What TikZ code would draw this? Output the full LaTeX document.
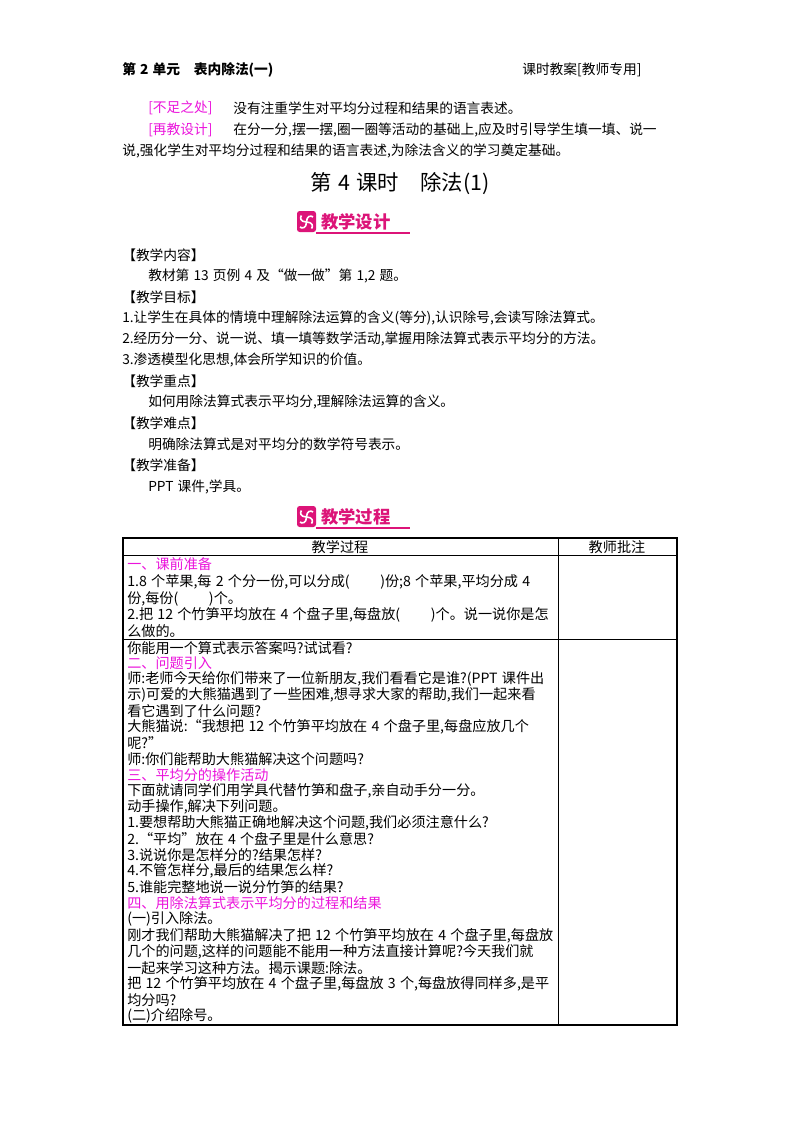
\documentclass[tikz,border=0pt]{standalone}
\usepackage{fontspec}
\setmainfont{Noto Sans CJK SC}
\definecolor{mag}{RGB}{235,20,220}
\definecolor{badge}{RGB}{220,20,120}
\newcommand{\gp}{\hspace{0.3em}}
\begin{document}
\begin{tikzpicture}[x=0.75pt,y=-0.75pt,
  t/.style={anchor=west,inner sep=0,font=\fontsize{10.3}{12}\selectfont},
  tt/.style={anchor=west,inner sep=0,font=\fontsize{10.6}{11}\selectfont},
  hd/.style={tt,text=mag}]
\useasboundingbox (0,0) rectangle (800,1132);
\fill[white] (0,0) rectangle (800,1132);
% header
\node[t,font=\fontsize{10.3}{12}\bfseries\selectfont] (h1) at (122,70) {第\gp{}2\gp{}单元\quad{}表内除法(一)};
\node[t] (h2) at (522,70) {课时教案[教师专用]};
\node[t,text=mag] (n1) at (148,108) {[不足之处]};
\node[t] (n1b) at (233,108) {没有注重学生对平均分过程和结果的语言表述。};
\node[t,text=mag] (n2) at (148,130) {[再教设计]};
\node[t] (n2b) at (233,130) {在分一分,摆一摆,圈一圈等活动的基础上,应及时引导学生填一填、说一};
\node[t] (n2c) at (122,151) {说,强化学生对平均分过程和结果的语言表述,为除法含义的学习奠定基础。};
\node[anchor=center,inner sep=0,font=\fontsize{16}{18}\selectfont] (title) at (400,184) {第\gp{}4\gp{}课时\quad{}除法(1)};
% badges
\foreach \yy/\txt/\nm in {222/教学设计/b1,517/教学过程/b2}{
  \fill[badge,rounded corners=2] (297,\yy-11) rectangle (316,\yy+10);
  \foreach \a in {0,90,180,270}
    \draw[white,line width=1.2pt,rotate around={\a:(306.5,\yy)}] (306.5,\yy) .. controls (306.5,\yy-6) and (311,\yy-7) .. (313,\yy-5);
  \draw[badge,line width=1pt] (316,\yy+11) -- (410,\yy+11);
  \node[anchor=west,inner sep=0,text=badge,font=\fontsize{13}{15}\bfseries\selectfont] (\nm) at (321,\yy) {\txt};
}
\node[t] (s1) at (122,255) {【教学内容】};
\node[t] (s1a) at (148,276) {教材第\gp{}13\gp{}页例\gp{}4\gp{}及“做一做”第\gp{}1,2\gp{}题。};
\node[t] (s2) at (122,297) {【教学目标】};
\node[t] (s2a) at (122,318) {1.让学生在具体的情境中理解除法运算的含义(等分),认识除号,会读写除法算式。};
\node[t] (s2b) at (122,339) {2.经历分一分、说一说、填一填等数学活动,掌握用除法算式表示平均分的方法。};
\node[t] (s2c) at (122,360) {3.渗透模型化思想,体会所学知识的价值。};
\node[t] (s3) at (122,381) {【教学重点】};
\node[t] (s3a) at (148,402) {如何用除法算式表示平均分,理解除法运算的含义。};
\node[t] (s4) at (122,423) {【教学难点】};
\node[t] (s4a) at (148,444) {明确除法算式是对平均分的数学符号表示。};
\node[t] (s5) at (122,465) {【教学准备】};
\node[t] (s5a) at (148,487) {PPT\gp{}课件,学具。};
% table
\draw[line width=0.8pt] (123,538) rectangle (677,1025);
\draw[line width=0.6pt] (558,538) -- (558,1025);
\draw[line width=0.6pt] (123,555) -- (677,555);
\draw[line width=0.7pt] (123,639) -- (677,639);
\node[tt,anchor=center] (th1) at (340,547) {教学过程};
\node[tt,anchor=center] (th2) at (617,547) {教师批注};
\node[hd] (r1) at (127,564) {一、课前准备};
\node[tt] (r2) at (127,582) {1.8\gp{}个苹果,每\gp{}2\gp{}个分一份,可以分成(\qquad\,)份;8\gp{}个苹果,平均分成\gp{}4};
\node[tt] (r3) at (127,599) {份,每份(\qquad\,)个。};
\node[tt] (r4) at (127,615) {2.把\gp{}12\gp{}个竹笋平均放在\gp{}4\gp{}个盘子里,每盘放(\qquad\,)个。说一说你是怎};
\node[tt] (r5) at (127,631) {么做的。};
\node[tt] (q1) at (127,648) {你能用一个算式表示答案吗?试试看?};
\node[hd] (q2) at (127,663) {二、问题引入};
\node[tt] (q3) at (127,679) {师:老师今天给你们带来了一位新朋友,我们看看它是谁?(PPT\gp{}课件出};
\node[tt] (q4) at (127,695) {示)可爱的大熊猫遇到了一些困难,想寻求大家的帮助,我们一起来看};
\node[tt] (q5) at (127,711) {看它遇到了什么问题?};
\node[tt] (q6) at (127,727) {大熊猫说:“我想把\gp{}12\gp{}个竹笋平均放在\gp{}4\gp{}个盘子里,每盘应放几个};
\node[tt] (q7) at (127,743) {呢?”};
\node[tt] (q8) at (127,759) {师:你们能帮助大熊猫解决这个问题吗?};
\node[hd] (q9) at (127,775) {三、平均分的操作活动};
\node[tt] (q10) at (127,791) {下面就请同学们用学具代替竹笋和盘子,亲自动手分一分。};
\node[tt] (q11) at (127,807) {动手操作,解决下列问题。};
\node[tt] (q12) at (127,823) {1.要想帮助大熊猫正确地解决这个问题,我们必须注意什么?};
\node[tt] (q13) at (127,839) {2.“平均”放在\gp{}4\gp{}个盘子里是什么意思?};
\node[tt] (q14) at (127,855) {3.说说你是怎样分的?结果怎样?};
\node[tt] (q15) at (127,871) {4.不管怎样分,最后的结果怎么样?};
\node[tt] (q16) at (127,887) {5.谁能完整地说一说分竹笋的结果?};
\node[hd] (q17) at (127,903) {四、用除法算式表示平均分的过程和结果};
\node[tt] (q18) at (127,919) {(一)引入除法。};
\node[tt] (q19) at (127,936) {刚才我们帮助大熊猫解决了把\gp{}12\gp{}个竹笋平均放在\gp{}4\gp{}个盘子里,每盘放};
\node[tt] (q20) at (127,952) {几个的问题,这样的问题能不能用一种方法直接计算呢?今天我们就};
\node[tt] (q21) at (127,968) {一起来学习这种方法。揭示课题:除法。};
\node[tt] (q22) at (127,984) {把\gp{}12\gp{}个竹笋平均放在\gp{}4\gp{}个盘子里,每盘放\gp{}3\gp{}个,每盘放得同样多,是平};
\node[tt] (q23) at (127,1000) {均分吗?};
\node[tt] (q24) at (127,1016) {(二)介绍除号。};
\end{tikzpicture}
\end{document}
